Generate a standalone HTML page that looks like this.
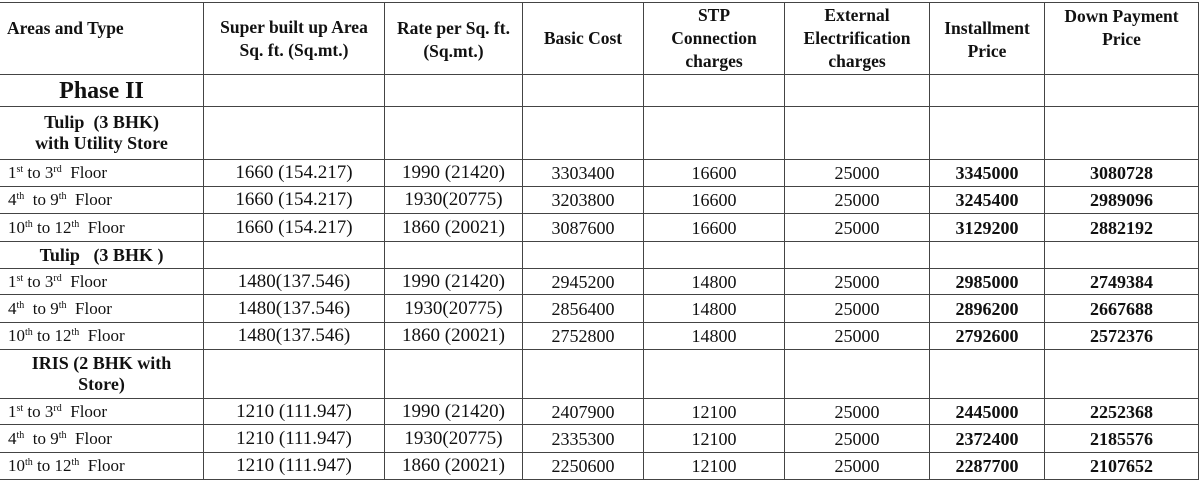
<!DOCTYPE html>
<html><head><style>
body{margin:0;width:1200px;height:474px;overflow:hidden;background:#fff;font-family:"Liberation Serif",serif;color:#111}
table{position:absolute;left:-1px;top:2px;border-collapse:collapse;table-layout:fixed}
td{border:1px solid #444;padding:0;text-align:center;vertical-align:middle;font-size:16px;line-height:18px;overflow:hidden;white-space:nowrap}
tr.h td{font-weight:bold;font-size:17.5px;line-height:23px;white-space:normal}
td.f{text-align:left;padding-left:8px;font-size:17px}
td.b{font-weight:bold;font-size:18px}
td.n{font-size:18px}
td.a{font-size:19px}
td.t{font-weight:bold;font-size:18px;line-height:21px;white-space:normal}
sup{font-size:10px;line-height:0;vertical-align:6px}
</style></head><body>
<table>
<colgroup><col style="width:204px"><col style="width:181px"><col style="width:138px"><col style="width:121px"><col style="width:141px"><col style="width:145px"><col style="width:115px"><col style="width:154px"></colgroup>
<tr class="h" style="height:72px"><td style="text-align:left;padding-left:7px;vertical-align:top;padding-top:14px">Areas and Type</td><td>Super built up Area<br>Sq. ft. (Sq.mt.)</td><td style="vertical-align:top;padding-top:14px">Rate per Sq. ft.<br>(Sq.mt.)</td><td>Basic Cost</td><td>STP<br>Connection<br>charges</td><td>External<br>Electrification<br>charges</td><td style="vertical-align:top;padding-top:14px">Installment<br>Price</td><td style="vertical-align:top;padding-top:2px">Down Payment<br>Price</td></tr>
<tr style="height:32px"><td style="font-weight:bold;font-size:24px;line-height:26px">Phase II</td><td></td><td></td><td></td><td></td><td></td><td></td><td></td></tr>
<tr style="height:53px"><td class="t">Tulip &nbsp;(3 BHK)<br>with Utility Store</td><td></td><td></td><td></td><td></td><td></td><td></td><td></td></tr>
<tr style="height:27px"><td class="f">1<sup>st</sup> to 3<sup>rd</sup> &nbsp;Floor</td><td class="a">1660 (154.217)</td><td class="a">1990 (21420)</td><td class="n">3303400</td><td class="n">16600</td><td class="n">25000</td><td class="b">3345000</td><td class="b">3080728</td></tr>
<tr style="height:27px"><td class="f">4<sup>th</sup> &nbsp;to 9<sup>th</sup> &nbsp;Floor</td><td class="a">1660 (154.217)</td><td class="a">1930(20775)</td><td class="n">3203800</td><td class="n">16600</td><td class="n">25000</td><td class="b">3245400</td><td class="b">2989096</td></tr>
<tr style="height:28px"><td class="f">10<sup>th</sup> to 12<sup>th</sup> &nbsp;Floor</td><td class="a">1660 (154.217)</td><td class="a">1860 (20021)</td><td class="n">3087600</td><td class="n">16600</td><td class="n">25000</td><td class="b">3129200</td><td class="b">2882192</td></tr>
<tr style="height:27px"><td class="t">Tulip &nbsp;&nbsp;(3 BHK )</td><td></td><td></td><td></td><td></td><td></td><td></td><td></td></tr>
<tr style="height:26px"><td class="f">1<sup>st</sup> to 3<sup>rd</sup> &nbsp;Floor</td><td class="a">1480(137.546)</td><td class="a">1990 (21420)</td><td class="n">2945200</td><td class="n">14800</td><td class="n">25000</td><td class="b">2985000</td><td class="b">2749384</td></tr>
<tr style="height:28px"><td class="f">4<sup>th</sup> &nbsp;to 9<sup>th</sup> &nbsp;Floor</td><td class="a">1480(137.546)</td><td class="a">1930(20775)</td><td class="n">2856400</td><td class="n">14800</td><td class="n">25000</td><td class="b">2896200</td><td class="b">2667688</td></tr>
<tr style="height:27px"><td class="f">10<sup>th</sup> to 12<sup>th</sup> &nbsp;Floor</td><td class="a">1480(137.546)</td><td class="a">1860 (20021)</td><td class="n">2752800</td><td class="n">14800</td><td class="n">25000</td><td class="b">2792600</td><td class="b">2572376</td></tr>
<tr style="height:49px"><td class="t">IRIS (2 BHK with<br>Store)</td><td></td><td></td><td></td><td></td><td></td><td></td><td></td></tr>
<tr style="height:26px"><td class="f">1<sup>st</sup> to 3<sup>rd</sup> &nbsp;Floor</td><td class="a">1210 (111.947)</td><td class="a">1990 (21420)</td><td class="n">2407900</td><td class="n">12100</td><td class="n">25000</td><td class="b">2445000</td><td class="b">2252368</td></tr>
<tr style="height:28px"><td class="f">4<sup>th</sup> &nbsp;to 9<sup>th</sup> &nbsp;Floor</td><td class="a">1210 (111.947)</td><td class="a">1930(20775)</td><td class="n">2335300</td><td class="n">12100</td><td class="n">25000</td><td class="b">2372400</td><td class="b">2185576</td></tr>
<tr style="height:27px"><td class="f">10<sup>th</sup> to 12<sup>th</sup> &nbsp;Floor</td><td class="a">1210 (111.947)</td><td class="a">1860 (20021)</td><td class="n">2250600</td><td class="n">12100</td><td class="n">25000</td><td class="b">2287700</td><td class="b">2107652</td></tr>
</table>
</body></html>
